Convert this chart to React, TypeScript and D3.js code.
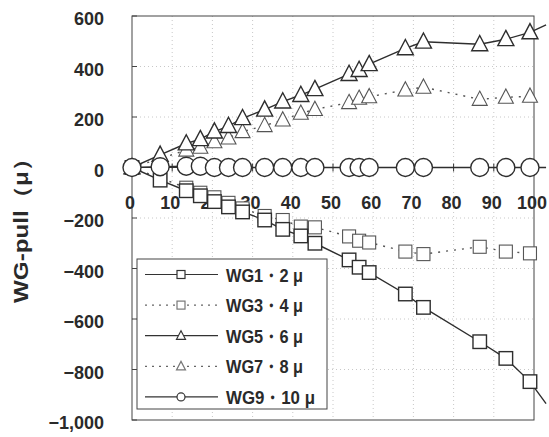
import React, { useEffect, useRef } from "react";
import * as d3 from "d3";

// station positions (%) along the gauge
const xPos = [0, 7, 13.5, 17, 20.5, 24, 27.5, 33, 37.5, 42, 45.5, 54, 56.5, 59, 68, 72.5, 86.5, 93, 99, 103];

const wg1 = [0, -50, -92, -112, -135, -156, -176, -208, -245, -271, -300, -366, -395, -416, -501, -554, -690, -756, -848, -935];
const wg3 = [0, -42, -80, -100, -118, -140, -162, -192, -208, -234, -237, -273, -290, -297, -333, -343, -314, -333, -340, null];
const wg5 = [0, 50, 95, 112, 142, 164, 195, 229, 261, 287, 310, 370, 386, 409, 472, 498, 488, 508, 535, 565];
const wg7 = [0, 35, 69, 80, 102, 117, 142, 166, 188, 215, 230, 257, 274, 280, 307, 318, 270, 278, 282, null];
const wg9 = [0, 3, 5, 5, 0, 0, 0, 0, 0, 0, 0, 0, 0, 0, 0, 0, 0, 0, 0, 0];

const seriesLabels = ["WG1・2 μ", "WG3・4 μ", "WG5・6 μ", "WG7・8 μ", "WG9・10 μ"];
const xTicks = [0, 10, 20, 30, 40, 50, 60, 70, 80, 90, 100];
const yTicks = [-1000, -800, -600, -400, -200, 0, 200, 400, 600];

type Pt = { x: number; v: number | null };

const App = () => {
  const ref = useRef<SVGSVGElement>(null);

  useEffect(() => {
    const svg = d3.select(ref.current);
    svg.selectAll("*").remove();

    const x = d3.scaleLinear().domain([0, 100]).range([132, 534]);
    const y = d3.scaleLinear().domain([-1000, 600]).range([420, 16]);
    const font = "'Liberation Sans', Arial, sans-serif";
    const ink = "#2a2a2a";

    // faint dotted grid
    const grid = svg.append("g").attr("stroke", "#c8c8c8").attr("stroke-dasharray", "1,3");
    yTicks.slice(1, -1).forEach(t => {
      if (t === 0) return;
      grid.append("line").attr("x1", x(0)).attr("x2", x(100)).attr("y1", y(t)).attr("y2", y(t));
    });
    xTicks.slice(1, -1).forEach(t => {
      grid.append("line").attr("x1", x(t)).attr("x2", x(t)).attr("y1", y(600)).attr("y2", y(-1000));
    });

    // frame
    svg.append("rect")
      .attr("x", x(0)).attr("y", y(600))
      .attr("width", x(100) - x(0)).attr("height", y(-1000) - y(600))
      .attr("fill", "none").attr("stroke", "#444").attr("stroke-width", 1);

    // y ticks + labels
    yTicks.forEach(t => {
      svg.append("line")
        .attr("x1", x(0)).attr("x2", x(0) + 5)
        .attr("y1", y(t)).attr("y2", y(t))
        .attr("stroke", "#444");
      svg.append("text")
        .attr("x", 104).attr("y", y(t)).attr("dy", "0.5em")
        .attr("text-anchor", "end")
        .attr("font-family", font).attr("font-size", 18).attr("font-weight", "bold")
        .attr("fill", ink)
        .text(d3.format(",")(t));
    });

    // x axis on the zero line
    svg.append("line")
      .attr("x1", x(0)).attr("x2", x(100)).attr("y1", y(0)).attr("y2", y(0))
      .attr("stroke", "#333");
    xTicks.forEach(t => {
      svg.append("line")
        .attr("x1", x(t)).attr("x2", x(t)).attr("y1", y(0) - 4).attr("y2", y(0) + 4)
        .attr("stroke", "#333");
      svg.append("text")
        .attr("x", x(t) - 2).attr("y", y(0) + 35).attr("dy", "0.35em")
        .attr("text-anchor", "middle")
        .attr("font-family", font).attr("font-size", 18).attr("font-weight", "bold")
        .attr("fill", ink)
        .text(t);
    });

    // y title
    svg.append("text")
      .attr("transform", "translate(21,225) rotate(-90)")
      .attr("text-anchor", "middle").attr("dy", "0.35em")
      .attr("font-family", font).attr("font-size", 20).attr("font-weight", "bold")
      .attr("fill", ink)
      .attr("textLength", 156).attr("lengthAdjust", "spacingAndGlyphs")
      .text("WG-pull（μ）");

    const tri = (s: number) => `M0,${-s * 0.55}L${s / 2},${s * 0.4}L${-s / 2},${s * 0.4}Z`;

    const drawMarker = (g: any, kind: string, cx: number, cy: number, size: number, stroke: string, sw: number) => {
      if (kind === "square") {
        g.append("rect")
          .attr("x", cx - size / 2).attr("y", cy - size / 2)
          .attr("width", size).attr("height", size)
          .attr("fill", "#fff").attr("stroke", stroke).attr("stroke-width", sw);
      } else if (kind === "triangle") {
        g.append("path")
          .attr("d", tri(size))
          .attr("transform", `translate(${cx},${cy})`)
          .attr("fill", "#fff").attr("stroke", stroke).attr("stroke-width", sw);
      } else {
        g.append("circle")
          .attr("cx", cx).attr("cy", cy).attr("r", size / 2)
          .attr("fill", "#fff").attr("stroke", stroke).attr("stroke-width", sw);
      }
    };

    const series = [
      { vals: wg3, kind: "square", dotted: true, size: 13 },
      { vals: wg7, kind: "triangle", dotted: true, size: 15 },
      { vals: wg1, kind: "square", dotted: false, size: 13.5 },
      { vals: wg5, kind: "triangle", dotted: false, size: 16 },
      { vals: wg9, kind: "circle", dotted: false, size: 18 }
    ];

    const line = d3.line<Pt>()
      .defined(d => d.v != null)
      .x(d => x(d.x))
      .y(d => y(d.v as number));

    series.forEach(s => {
      const pts: Pt[] = xPos.map((p, i) => ({ x: p, v: s.vals[i] }));
      const g = svg.append("g");
      g.append("path")
        .attr("d", line(pts))
        .attr("fill", "none")
        .attr("stroke", s.dotted ? "#555" : "#2e2e2e")
        .attr("stroke-width", 1.4)
        .attr("stroke-dasharray", s.dotted ? "2,6" : null);
      pts.filter(d => d.v != null && d.x <= 100).forEach(d => {
        drawMarker(g, s.kind, x(d.x), y(d.v as number), s.size, s.dotted ? "#555" : "#2e2e2e", s.dotted ? 1.1 : 1.4);
      });
    });

    // legend
    const lg = svg.append("g");
    lg.append("rect")
      .attr("x", 137).attr("y", 259).attr("width", 190).attr("height", 150)
      .attr("fill", "#fff").attr("stroke", "#444").attr("stroke-width", 1);
    const legendOrder = [
      { kind: "square", dotted: false, size: 8, w: 77 },
      { kind: "square", dotted: true, size: 8, w: 77 },
      { kind: "triangle", dotted: false, size: 9, w: 77 },
      { kind: "triangle", dotted: true, size: 9, w: 77 },
      { kind: "circle", dotted: false, size: 8, w: 89 }
    ];
    legendOrder.forEach((e, i) => {
      const cy = 274.5 + i * 30.6;
      lg.append("line")
        .attr("x1", 145).attr("x2", 218).attr("y1", cy).attr("y2", cy)
        .attr("stroke", e.dotted ? "#666" : "#333")
        .attr("stroke-width", 1.2)
        .attr("stroke-dasharray", e.dotted ? "2,5" : null);
      drawMarker(lg, e.kind, 181, cy, e.size, e.dotted ? "#777" : "#333", 1.2);
      lg.append("text")
        .attr("x", 226).attr("y", cy).attr("dy", "0.37em")
        .attr("font-family", font).attr("font-size", 19).attr("font-weight", "bold")
        .attr("fill", ink)
        .attr("textLength", e.w).attr("lengthAdjust", "spacingAndGlyphs")
        .text(seriesLabels[i]);
    });
  }, []);

  return (
    <div style={{ position: "absolute", left: 0, top: 0 }}>
      <svg ref={ref} width={549} height={437} style={{ display: "block", background: "#fff" }} />
    </div>
  );
};

export default App;
